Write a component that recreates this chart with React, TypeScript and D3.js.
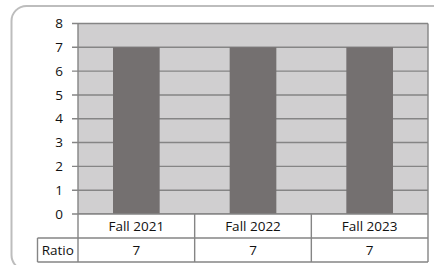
import React from "react";
import * as d3 from "d3";

const categories = ["Fall 2021", "Fall 2022", "Fall 2023"];
const ratioValues = [7, 7, 7];
const seriesName = "Ratio";
const yTicks = [0, 1, 2, 3, 4, 5, 6, 7, 8];

const W = 434;
const H = 265;
const FONT = "'Open Sans', sans-serif";
const FS = 13.5;

const plot = { left: 78, right: 428, top: 23.5, bottom: 214 };
const rowH = 24;
const labelLeft = 37.5;

const App = () => {
  const x = d3
    .scaleBand<string>()
    .domain(categories)
    .range([plot.left, plot.right])
    .paddingInner(0.6)
    .paddingOuter(0.3);
  const cell = d3.scaleBand<string>().domain(categories).range([plot.left, plot.right]);
  const y = d3.scaleLinear().domain([0, 8]).range([plot.bottom, plot.top]);

  const gridColor = "#858585";
  const textColor = "#111";
  const row1 = plot.bottom + rowH;
  const row2 = row1 + rowH;

  return (
    <svg
      width={W}
      height={H}
      style={{ position: "fixed", left: 0, top: 0, background: "#fff" }}
      fontFamily={FONT}
    >
      <rect x={11.5} y={6} width={460} height={264} rx={15} fill="#fff" stroke="#bdbdbd" strokeWidth={2} />

      <rect
        x={plot.left}
        y={plot.top}
        width={plot.right - plot.left}
        height={plot.bottom - plot.top}
        fill="#d0cfd0"
      />

      {yTicks.map((t) => (
        <g key={t}>
          <line x1={plot.left - 6} x2={plot.right} y1={y(t)} y2={y(t)} stroke={gridColor} strokeWidth={1.4} />
          <text x={63} y={y(t)} dy="0.35em" textAnchor="end" fontSize={FS} fill={textColor}>
            {t}
          </text>
        </g>
      ))}

      {categories.map((c, i) => (
        <rect
          key={c}
          x={x(c)}
          y={y(ratioValues[i])}
          width={x.bandwidth()}
          height={y(0) - y(ratioValues[i])}
          fill="#747070"
        />
      ))}

      {/* data table */}
      <rect x={plot.left} y={plot.bottom} width={plot.right - plot.left} height={rowH * 2} fill="#fff" />
      <rect x={labelLeft} y={row1} width={plot.left - labelLeft} height={rowH} fill="#fff" />
      <g stroke={gridColor} strokeWidth={1.4}>
        <line x1={plot.left} x2={plot.left} y1={plot.top} y2={row2} />
        <line x1={plot.right} x2={plot.right} y1={plot.top} y2={row2} />
        <line x1={labelLeft} x2={plot.right} y1={row1} y2={row1} />
        <line x1={labelLeft} x2={plot.right} y1={row2} y2={row2} />
        <line x1={labelLeft} x2={labelLeft} y1={row1} y2={row2} />
        <line x1={plot.left} x2={plot.right} y1={plot.bottom} y2={plot.bottom} />
        {categories.slice(1).map((c) => (
          <line key={c} x1={cell(c)} x2={cell(c)} y1={plot.bottom} y2={row2} />
        ))}
      </g>
      <text x={(labelLeft + plot.left) / 2} y={row1 + rowH / 2} dy="0.35em" textAnchor="middle" fontSize={FS} fill={textColor}>
        {seriesName}
      </text>
      {categories.map((c, i) => (
        <g key={c}>
          <text
            x={(cell(c) ?? 0) + cell.bandwidth() / 2}
            y={plot.bottom + rowH / 2}
            dy="0.35em"
            textAnchor="middle"
            fontSize={FS}
            fill={textColor}
          >
            {c}
          </text>
          <text
            x={(cell(c) ?? 0) + cell.bandwidth() / 2}
            y={row1 + rowH / 2}
            dy="0.35em"
            textAnchor="middle"
            fontSize={FS}
            fill={textColor}
          >
            {ratioValues[i]}
          </text>
        </g>
      ))}
    </svg>
  );
};

export default App;
